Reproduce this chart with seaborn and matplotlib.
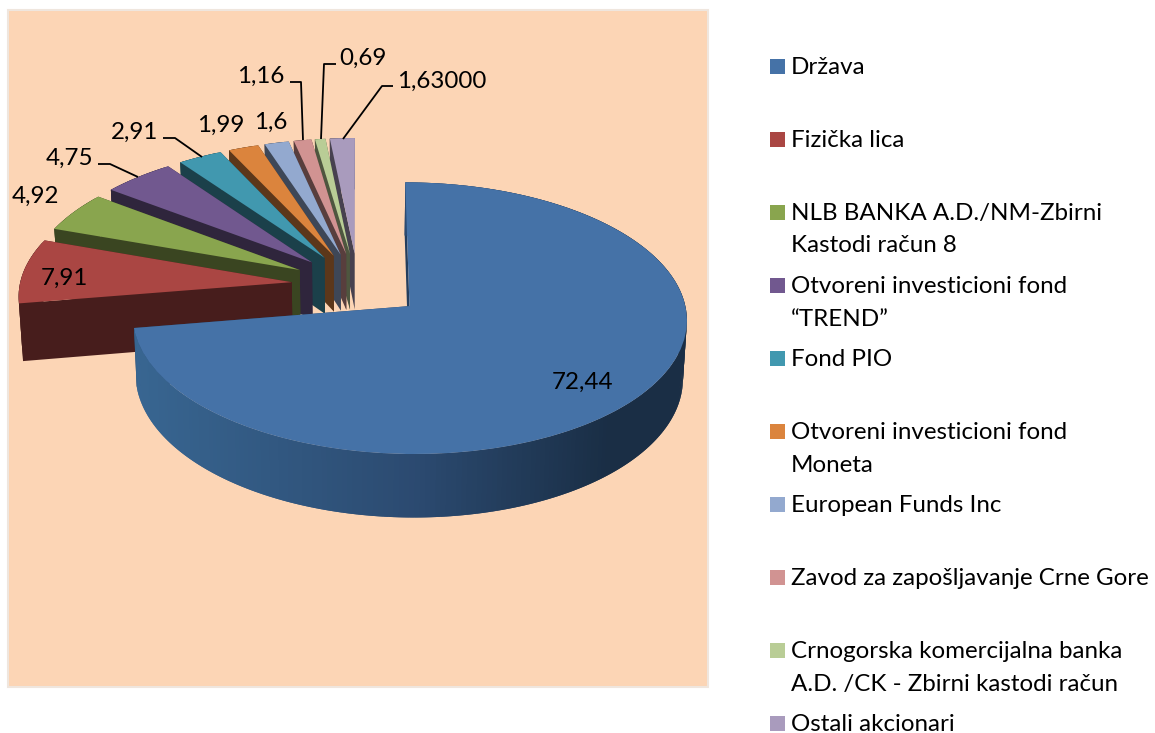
import numpy as np
import seaborn as sns
import matplotlib.pyplot as plt
from matplotlib.patches import Rectangle
from matplotlib.path import Path
from matplotlib.transforms import Transform

categories = [
    'Država',
    'Fizička lica',
    'NLB BANKA A.D./NM-Zbirni\nKastodi račun 8',
    'Otvoreni investicioni fond\n“TREND”',
    'Fond PIO',
    'Otvoreni investicioni fond\nMoneta',
    'European Funds Inc',
    'Zavod za zapošljavanje Crne Gore',
    'Crnogorska komercijalna banka\nA.D. /CK - Zbirni kastodi račun',
    'Ostali akcionari',
]
shares = [72.44, 7.91, 4.92, 4.75, 2.91, 1.99, 1.6, 1.16, 0.69, 1.63]
value_labels = ['72,44', '7,91', '4,92', '4,75', '2,91', '1,99', '1,6', '1,16', '0,69', '1,63000']
hex_colors = ['#4572A7', '#AA4643', '#89A54E', '#71588F', '#4198AF',
              '#DB843D', '#93A9CF', '#D19392', '#B9CD96', '#A99BBD']

# label anchors and leader lines, in pixels of the picture
label_xy = [(583, 382), (64, 278), (35, 196), (69, 158), (135, 132),
            (221, 125), (271, 122), (261, 76), (363, 58), (442, 81)]
leaders = {
    3: [(98, 164), (110, 164), (138, 177)],
    4: [(163, 138), (175, 138), (202, 157)],
    7: [(290, 82), (301, 82), (303, 140)],
    8: [(336, 64), (324, 64), (321, 139)],
    9: [(393, 86), (382, 86), (343, 139)],
}

# camera of the fake 3d pie
CX, CY = 358, 285
SX, SY = 272, 131
PERSP = 0.088
DEPTH = 57
SHRINK = 0.012
EXPLODE = 0.245


def project(x, y, z=0.0):
    x, y = np.asarray(x, float), np.asarray(y, float)
    w = 1 + PERSP * y
    px = CX + SX * x / w * (1 - SHRINK * z)
    py = CY - SY * y / w + DEPTH * z / w
    return px, py


class TiltTransform(Transform):
    input_dims = 2
    output_dims = 2
    is_separable = False
    has_inverse = False

    def transform_non_affine(self, values):
        px, py = project(values[:, 0], values[:, 1])
        return np.column_stack([px, py])

    def transform_path_non_affine(self, path):
        return Path(self.transform_non_affine(path.vertices), path.codes)


def blue_wall(px):
    stops = [135, 420, 610]
    ramp = [(0.22, 0.40, 0.57), (0.17, 0.29, 0.44), (0.10, 0.18, 0.27)]
    return tuple(np.interp(px, stops, [c[k] for c in ramp]) for k in range(3))


def draw_walls(ax, wedge, index, color, zorder):
    dark = tuple(c * 0.42 for c in color)
    cx, cy = wedge.center
    for theta in (wedge.theta1, wedge.theta2):
        ex = cx + wedge.r * np.cos(np.radians(theta))
        ey = cy + wedge.r * np.sin(np.radians(theta))
        xs = np.array([cx, ex, ex, cx])
        ys = np.array([cy, ey, ey, cy])
        zs = np.array([0, 0, 1, 1])
        ax.fill(*project(xs, ys, zs), color=dark if index else blue_wall(500),
                lw=0, zorder=zorder)
    steps = np.linspace(wedge.theta1, wedge.theta2, max(3, int(wedge.theta2 - wedge.theta1) + 2))
    # each strip runs over the next one so no seams show
    for k, a in enumerate(steps[:-1]):
        b = steps[min(k + 2, len(steps) - 1)]
        xs = cx + wedge.r * np.cos(np.radians([a, b, b, a]))
        ys = cy + wedge.r * np.sin(np.radians([a, b, b, a]))
        zs = np.array([0, 0, 1, 1])
        px, py = project(xs, ys, zs)
        ax.fill(px, py, color=blue_wall(px.mean()) if index == 0 else dark,
                lw=0, zorder=zorder)


sns.set_theme(style='white')
plt.rcParams['font.family'] = ['Lato', 'DejaVu Sans']
colors = sns.color_palette(hex_colors)

fig = plt.figure(figsize=(11.55, 7.33), dpi=100)
ax = fig.add_axes([0, 0, 1, 1])

wedges, _ = ax.pie(
    shares,
    explode=[EXPLODE] * len(shares),
    colors=colors,
    startangle=90,
    counterclock=False,
    wedgeprops={'linewidth': 0},
)
ax.set_aspect('auto')
ax.set_xlim(0, 1155)
ax.set_ylim(733, 0)
ax.axis('off')

ax.add_patch(Rectangle((8, 10), 700, 677, fc='#FCD5B5', ec='#EFE6DE', lw=1.5, zorder=0))

tilt = TiltTransform()
# back slices first, the big one last
for order, i in enumerate(list(range(len(shares) - 1, 0, -1)) + [0]):
    base = 2 + order * 2
    draw_walls(ax, wedges[i], i, colors[i], base)
    wedges[i].set_transform(tilt + ax.transData)
    wedges[i].set_zorder(base + 1)

for i, text in enumerate(value_labels):
    ax.text(*label_xy[i], text, fontsize=17.4, color='black', ha='center', va='center', zorder=50)

for points in leaders.values():
    xs, ys = zip(*points)
    ax.plot(xs, ys, color='black', lw=1.3, zorder=49, solid_capstyle='butt')

# legend, fixed step between entries as in the original
for i, name in enumerate(categories):
    base_y = 73 + 73 * i
    ax.add_patch(Rectangle((770, base_y - 14), 15, 15, fc=colors[i], ec='none', zorder=5))
    for j, line in enumerate(name.split('\n')):
        ax.text(791, base_y + 1 + 32.5 * j, line, fontsize=17.4, color='black', ha='left', va='baseline')

plt.savefig('out.png', dpi=100)
plt.close()
